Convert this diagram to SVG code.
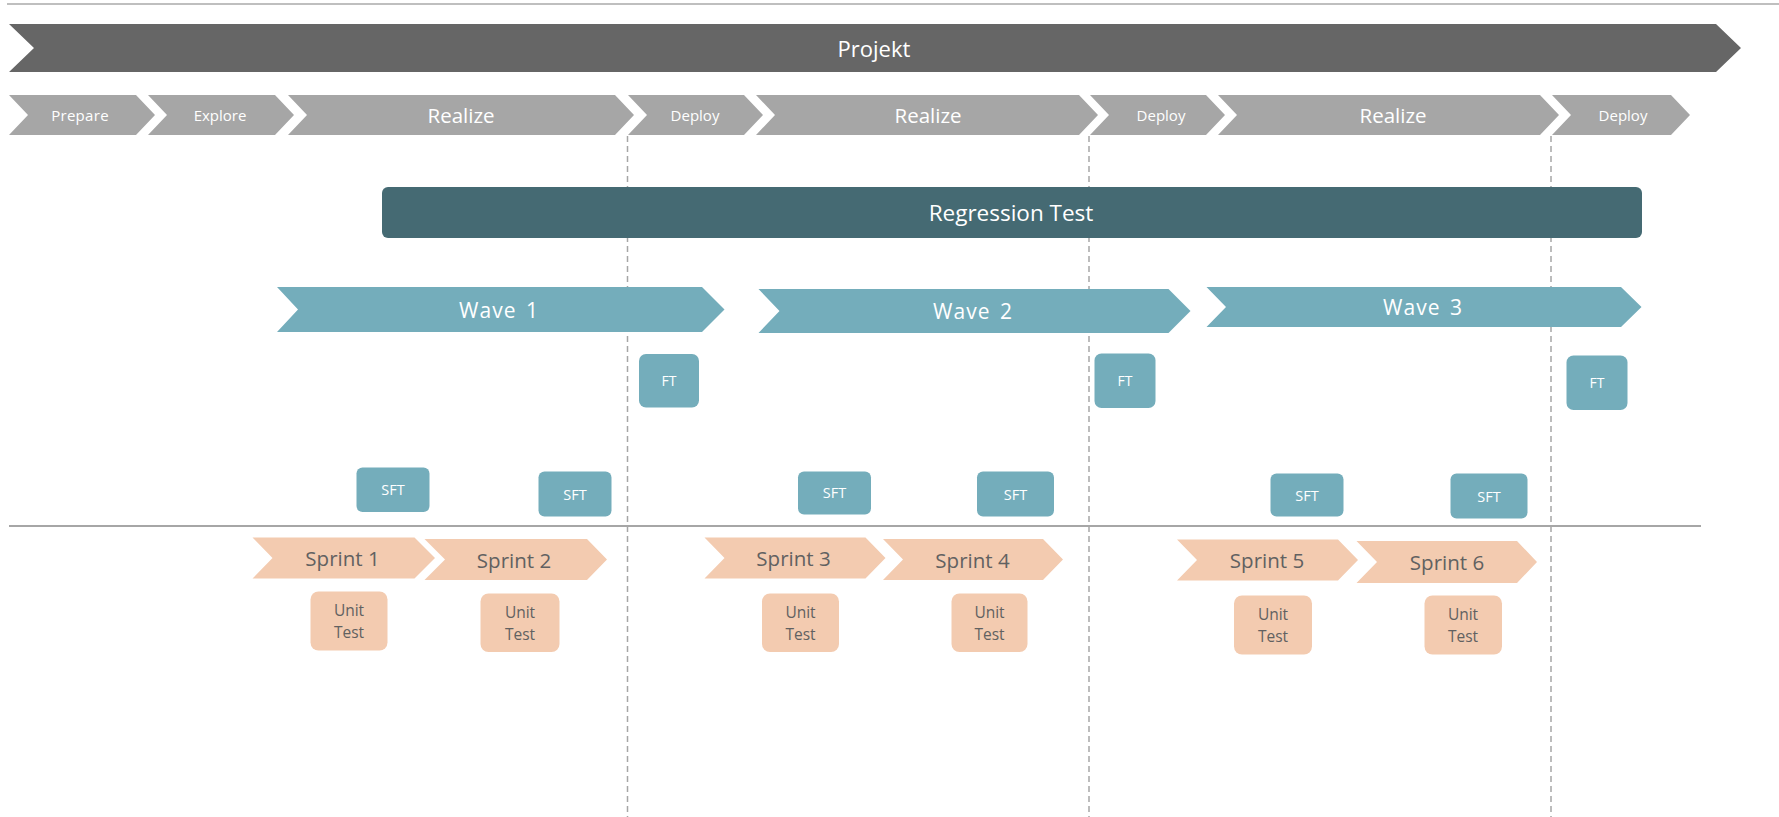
<svg xmlns="http://www.w3.org/2000/svg" width="1779" height="817" viewBox="0 0 1779 817">
<style>
text{font-family:"Open Sans","Noto Sans","Liberation Sans",sans-serif;text-anchor:middle;dominant-baseline:central}
.proj{fill:#666666}
.phase{fill:#a6a6a6}
.reg{fill:#456a73}
.teal{fill:#74adbb}
.peach{fill:#f3cbb0}
.wt{fill:#ffffff}
.dt{fill:#616161}
.guide{stroke:#a6a6a6;stroke-width:2;fill:none}
.dash{stroke:#a6a6a6;stroke-width:1.5;stroke-dasharray:6 4;fill:none}
</style>
<rect width="1779" height="817" fill="#ffffff"/>
<g id="connectors">
<line class="guide" style="stroke:#bfbfbf" x1="7" y1="4" x2="1779" y2="4"/>
<line class="guide" x1="9" y1="526" x2="1701" y2="526"/>
<line class="dash" x1="627.5" y1="136" x2="627.5" y2="817"/>
<line class="dash" x1="1089" y1="136" x2="1089" y2="817"/>
<line class="dash" x1="1551" y1="136" x2="1551" y2="817"/>
</g>
<g id="projekt">
<polygon class="proj" points="9,24 1716,24 1741,48 1716,72 9,72 34,48"/>
<text class="wt" x="874" y="48" font-size="22">Projekt</text>
</g>
<g id="prepare">
<polygon class="phase" points="9,95 136,95 155,115 136,135 9,135 28,115"/>
<text class="wt" x="80" y="115" font-size="15" letter-spacing="0.3">Prepare</text>
</g>
<g id="explore">
<polygon class="phase" points="148,95 275,95 294,115 275,135 148,135 167,115"/>
<text class="wt" x="220" y="115" font-size="15">Explore</text>
</g>
<g id="realize1">
<polygon class="phase" points="288,95 615,95 634,115 615,135 288,135 307,115"/>
<text class="wt" x="461" y="115" font-size="20.5">Realize</text>
</g>
<g id="deploy1">
<polygon class="phase" points="628,95 744,95 763,115 744,135 628,135 647,115"/>
<text class="wt" x="695" y="115" font-size="15">Deploy</text>
</g>
<g id="realize2">
<polygon class="phase" points="756,95 1079,95 1098,115 1079,135 756,135 775,115"/>
<text class="wt" x="928" y="115" font-size="20.5">Realize</text>
</g>
<g id="deploy2">
<polygon class="phase" points="1090,95 1206,95 1225,115 1206,135 1090,135 1109,115"/>
<text class="wt" x="1161" y="115" font-size="15">Deploy</text>
</g>
<g id="realize3">
<polygon class="phase" points="1218,95 1540,95 1559,115 1540,135 1218,135 1237,115"/>
<text class="wt" x="1393" y="115" font-size="20.5">Realize</text>
</g>
<g id="deploy3">
<polygon class="phase" points="1552,95 1671,95 1690,115 1671,135 1552,135 1571,115"/>
<text class="wt" x="1623" y="115" font-size="15">Deploy</text>
</g>
<g id="regression-test">
<rect class="reg" x="382" y="187" width="1260" height="51" rx="6"/>
<text class="wt" x="1011" y="212.5" font-size="22.5">Regression Test</text>
</g>
<g id="wave1">
<polygon class="teal" points="277,287 702,287 724.5,309.5 702,332 277,332 298,309.5"/>
<text class="wt" x="499" y="310" font-size="21" letter-spacing="1" word-spacing="3">Wave 1</text>
</g>
<g id="wave2">
<polygon class="teal" points="758.5,289 1168.5,289 1190.5,311 1168.5,333 758.5,333 779.5,311"/>
<text class="wt" x="973" y="311" font-size="21" letter-spacing="1" word-spacing="3">Wave 2</text>
</g>
<g id="wave3">
<polygon class="teal" points="1206.5,287 1621,287 1641.5,307 1621,327 1206.5,327 1226,307"/>
<text class="wt" x="1423" y="307" font-size="21" letter-spacing="1" word-spacing="3">Wave 3</text>
</g>
<g id="ft1">
<rect class="teal" x="639" y="354" width="60" height="53.5" rx="7"/>
<text class="wt" x="669" y="380.5" font-size="14">FT</text>
</g>
<g id="ft2">
<rect class="teal" x="1094.5" y="353.5" width="61" height="54.5" rx="7"/>
<text class="wt" x="1125" y="380.5" font-size="14">FT</text>
</g>
<g id="ft3">
<rect class="teal" x="1566.5" y="355.5" width="61" height="54.5" rx="7"/>
<text class="wt" x="1597" y="382.5" font-size="14">FT</text>
</g>
<g id="sft1">
<rect class="teal" x="356.5" y="467.5" width="73" height="44.5" rx="6"/>
<text class="wt" x="393" y="489.5" font-size="14.5">SFT</text>
</g>
<g id="sft2">
<rect class="teal" x="538.5" y="471.5" width="73" height="45" rx="6"/>
<text class="wt" x="575" y="494" font-size="14.5">SFT</text>
</g>
<g id="sft3">
<rect class="teal" x="798" y="471.5" width="73" height="43" rx="6"/>
<text class="wt" x="834.5" y="492.5" font-size="14.5">SFT</text>
</g>
<g id="sft4">
<rect class="teal" x="977" y="471.5" width="77" height="45" rx="6"/>
<text class="wt" x="1015.5" y="494" font-size="14.5">SFT</text>
</g>
<g id="sft5">
<rect class="teal" x="1270.5" y="473.5" width="73" height="43" rx="6"/>
<text class="wt" x="1307" y="495" font-size="14.5">SFT</text>
</g>
<g id="sft6">
<rect class="teal" x="1450.5" y="473.5" width="77" height="45" rx="6"/>
<text class="wt" x="1489" y="496" font-size="14.5">SFT</text>
</g>
<g id="sprint1">
<polygon class="peach" points="252.5,537.5 414.5,537.5 435,558 414.5,578.5 252.5,578.5 272.5,558"/>
<text class="dt" x="342.5" y="558" font-size="20.5">Sprint 1</text>
</g>
<g id="sprint2">
<polygon class="peach" points="424.5,539 587,539 607,559.5 587,580 424.5,580 445,559.5"/>
<text class="dt" x="514" y="559.5" font-size="20.5">Sprint 2</text>
</g>
<g id="sprint3">
<polygon class="peach" points="704.5,537.5 865.5,537.5 885.5,558 865.5,578.5 704.5,578.5 724.5,558"/>
<text class="dt" x="793.5" y="558" font-size="20.5">Sprint 3</text>
</g>
<g id="sprint4">
<polygon class="peach" points="883,539 1043,539 1063,559.5 1043,580 883,580 903,559.5"/>
<text class="dt" x="972.5" y="559.5" font-size="20.5">Sprint 4</text>
</g>
<g id="sprint5">
<polygon class="peach" points="1177,539.5 1338,539.5 1358,560 1338,580.5 1177,580.5 1197,560"/>
<text class="dt" x="1267" y="560" font-size="20.5">Sprint 5</text>
</g>
<g id="sprint6">
<polygon class="peach" points="1356.5,541 1517,541 1537,562 1517,583 1356.5,583 1377,562"/>
<text class="dt" x="1447" y="562" font-size="20.5">Sprint 6</text>
</g>
<g id="unittest1">
<rect class="peach" x="310.5" y="591.5" width="77" height="59" rx="8"/>
<text class="dt" x="349" y="610" font-size="15.5">Unit</text>
<text class="dt" x="349" y="632" font-size="15.5">Test</text>
</g>
<g id="unittest2">
<rect class="peach" x="480.5" y="593.5" width="79" height="58.5" rx="8"/>
<text class="dt" x="520" y="612" font-size="15.5">Unit</text>
<text class="dt" x="520" y="634" font-size="15.5">Test</text>
</g>
<g id="unittest3">
<rect class="peach" x="762" y="593.5" width="77" height="58.5" rx="8"/>
<text class="dt" x="800.5" y="612" font-size="15.5">Unit</text>
<text class="dt" x="800.5" y="634" font-size="15.5">Test</text>
</g>
<g id="unittest4">
<rect class="peach" x="951.5" y="593.5" width="76" height="58.5" rx="8"/>
<text class="dt" x="989.5" y="612" font-size="15.5">Unit</text>
<text class="dt" x="989.5" y="634" font-size="15.5">Test</text>
</g>
<g id="unittest5">
<rect class="peach" x="1234" y="595.5" width="78" height="59" rx="8"/>
<text class="dt" x="1273" y="614" font-size="15.5">Unit</text>
<text class="dt" x="1273" y="636" font-size="15.5">Test</text>
</g>
<g id="unittest6">
<rect class="peach" x="1424.5" y="595.5" width="77.5" height="59" rx="8"/>
<text class="dt" x="1463" y="614" font-size="15.5">Unit</text>
<text class="dt" x="1463" y="636" font-size="15.5">Test</text>
</g>
</svg>
